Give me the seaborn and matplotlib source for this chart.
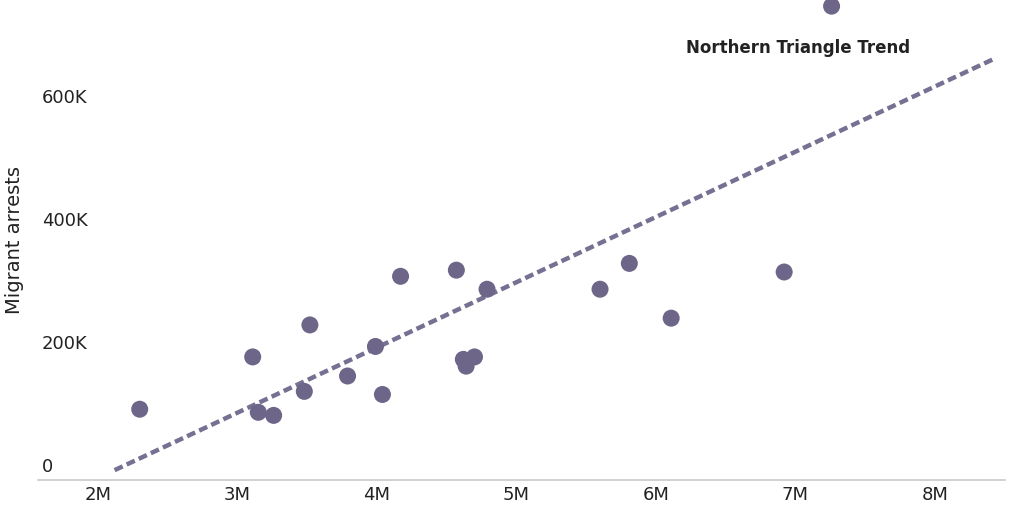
import matplotlib
matplotlib.use("Agg")
import matplotlib.pyplot as plt
import seaborn as sns
import pandas as pd
from matplotlib.ticker import FuncFormatter

sns.set_theme(style="white")
plt.rcParams['font.family'] = ['DejaVu Sans']

population_m = [2.30, 3.11, 3.15, 3.26, 3.48, 3.52, 3.79, 3.99, 4.04, 4.17,
                4.57, 4.62, 4.64, 4.70, 4.79, 5.60, 5.81, 6.11, 6.92, 7.26]
arrests_k = [91, 176, 86, 81, 120, 228, 145, 193, 115, 307,
             317, 172, 161, 176, 286, 286, 328, 239, 314, 746]
trend_x = [2.12, 8.44]
trend_y = [-8, 662]

df = pd.DataFrame({"x": population_m, "y": arrests_k})
color = "#6e6689"

fig = plt.figure(figsize=(10.24, 5.12), dpi=100)
ax = fig.add_axes([0.037, 0.0625, 0.944, 0.9375])
sns.lineplot(x=trend_x, y=trend_y, ax=ax, color="#767092", lw=3.2, linestyle=(0, (2, 1)))
sns.scatterplot(data=df, x="x", y="y", ax=ax, color=color, s=150, edgecolor="none", zorder=3)

ax.set_xlim(1.57, 8.50)
ax.set_ylim(-24, 756)
ax.set_xticks([2, 3, 4, 5, 6, 7, 8])
ax.xaxis.set_major_formatter(FuncFormatter(lambda v, p: f"{int(v)}M"))
ax.set_yticks([0, 200, 400, 600])
ax.yaxis.set_major_formatter(FuncFormatter(lambda v, p: "0" if v == 0 else f"{int(v)}K"))
ax.tick_params(axis="y", length=0, pad=-3, labelsize=13, colors="#222222")
for t in ax.get_yticklabels():
    t.set_horizontalalignment("left")
ax.tick_params(axis="x", length=0, labelsize=13, colors="#222222", pad=4)
for s in ["top", "right", "left"]:
    ax.spines[s].set_visible(False)
ax.spines["bottom"].set_color("#cccccc")
ax.set_xlabel("")
ax.set_ylabel("Migrant arrests", fontsize=14, color="#222222", labelpad=10)
ax.text(7.02, 678, "Northern Triangle Trend", fontsize=12, fontweight="bold",
        color="#222222", ha="center", va="center")
fig.savefig("out.png", dpi=100)
